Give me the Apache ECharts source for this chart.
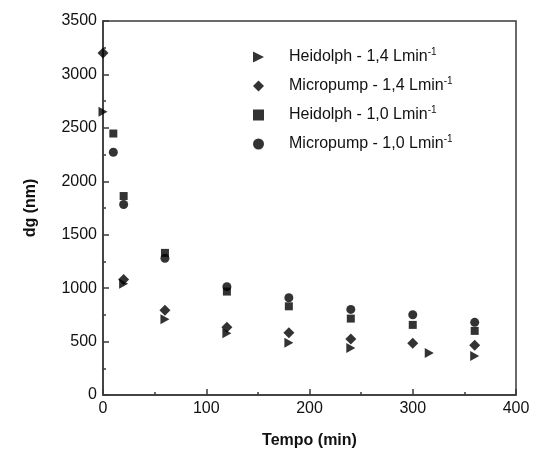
<!DOCTYPE html>
<html><head><meta charset="utf-8">
<script src="https://cdn.jsdelivr.net/npm/echarts@6/dist/echarts.min.js"></script>
<style>html,body{margin:0;padding:0;background:#fff}#c{width:534px;height:461px}</style>
</head><body><div id="c"></div>
<script>
const seriesNames = ['Heidolph - 1,4 Lmin', 'Micropump - 1,4 Lmin', 'Heidolph - 1,0 Lmin', 'Micropump - 1,0 Lmin'];
const heidolph14 = [[0, 2650], [20, 1040], [60, 710], [120, 578], [180, 490], [240, 440], [316, 392], [360, 365]];
const micropump14 = [[0, 3200], [20, 1082], [60, 793], [120, 635], [180, 582], [240, 524], [300, 485], [360, 465]];
const heidolph10 = [[10, 2447], [20, 1862], [60, 1330], [120, 968], [180, 830], [240, 715], [300, 656], [360, 600]];
const micropump10 = [[10, 2272], [20, 1783], [60, 1280], [120, 1014], [180, 910], [240, 801], [300, 751], [360, 680]];
const xTicks = [0, 100, 200, 300, 400];
const yTicks = [0, 500, 1000, 1500, 2000, 2500, 3000, 3500];

const chart = echarts.init(document.getElementById('c'), null, {renderer: 'canvas'});
const font = 'Liberation Sans, Arial, sans-serif';
const axisCol = '#3a3a3a';
const txtCol = '#111';
const triRight = 'path://M0,0 L10,5 L0,10 Z';
const symbols = [triRight, 'diamond', 'rect', 'circle'];
const sizes = [[9, 10], 11, 8, 9];
const datas = [heidolph14, micropump14, heidolph10, micropump10];

chart.setOption({
  animation: false,
  grid: {left: 103, right: 18, top: 21, bottom: 66, show: true, borderColor: axisCol, borderWidth: 1.5},
  legend: {
    data: seriesNames.map((n, i) => ({name: n, icon: symbols[i]})),
    orient: 'vertical', left: 248, top: 42, itemGap: 11, itemWidth: 11, itemHeight: 11,
    formatter: n => n + '{sup|-1}',
    textStyle: {fontFamily: font, fontSize: 16, color: txtCol, padding: [0,0,0,20],
      rich: {sup: {fontSize: 10, verticalAlign: 'top', padding: [0,0,10,0], fontFamily: font, color: txtCol}}}
  },
  xAxis: {
    type: 'value', min: xTicks[0], max: xTicks[xTicks.length-1], interval: 100,
    name: 'Tempo (min)', nameLocation: 'middle', nameGap: 38,
    nameTextStyle: {fontFamily: font, fontSize: 16, fontWeight: 'bold', color: txtCol},
    axisLine: {lineStyle: {color: axisCol, width: 1.5}},
    axisTick: {inside: true, length: 6, lineStyle: {color: axisCol, width: 1.5}},
    minorTick: {show: true, splitNumber: 2, length: 3, lineStyle: {color: axisCol, width: 1.5}},
    axisLabel: {fontFamily: font, fontSize: 16, color: txtCol, margin: 6, formatter: v => String(v)},
    splitLine: {show: false}
  },
  yAxis: {
    type: 'value', min: yTicks[0], max: yTicks[yTicks.length-1], interval: 500,
    name: 'dg (nm)', nameLocation: 'middle', nameGap: 64,
    nameTextStyle: {fontFamily: font, fontSize: 16, fontWeight: 'bold', color: txtCol},
    axisLine: {lineStyle: {color: axisCol, width: 1.5}},
    axisTick: {inside: true, length: 6, lineStyle: {color: axisCol, width: 1.5}},
    minorTick: {show: true, splitNumber: 2, length: 3, lineStyle: {color: axisCol, width: 1.5}},
    axisLabel: {fontFamily: font, fontSize: 16, color: txtCol, margin: 6, formatter: v => String(v)},
    splitLine: {show: false}
  },
  series: seriesNames.map((n, i) => ({
    name: n, type: 'scatter', data: datas[i], symbol: symbols[i],
    symbolSize: sizes[i], itemStyle: {color: '#000'}
  }))
});
</script></body></html>
